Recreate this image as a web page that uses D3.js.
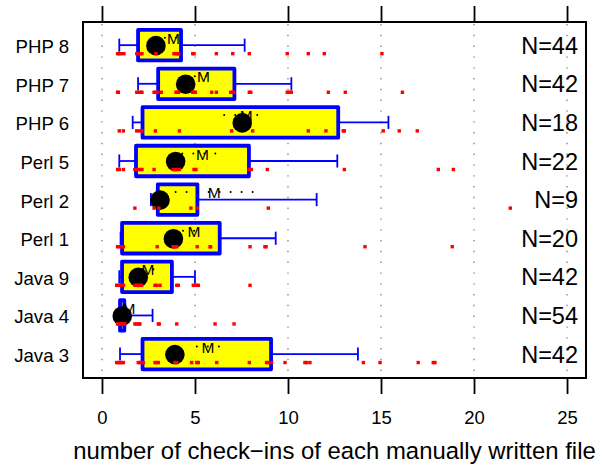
<!DOCTYPE html>
<html>
<head>
<meta charset="utf-8">
<script src="https://cdn.jsdelivr.net/npm/d3@7"></script>
<style>
  html, body { margin: 0; padding: 0; background: #fff; }
  svg { display: block; font-family: "Liberation Sans", Arial, Helvetica, sans-serif; }
</style>
</head>
<body>
<svg id="chart" width="603" height="465"></svg>
<script>
// ---- data (bottom to top) ----
const categories = ["Java 3", "Java 4", "Java 9", "Perl 1", "Perl 2", "Perl 5", "PHP 6", "PHP 7", "PHP 8"];
const nCounts    = [42, 54, 42, 20, 9, 22, 18, 42, 44];
const lowerWhisker = [0.97, 0.97, 0.93, 1.00, 2.63, 0.93, 1.65, 1.94, 0.93];
const q1           = [2.18, 0.97, 1.08, 1.08, 3.00, 1.83, 2.18, 3.02, 1.94];
const medians      = [3.92, 1.09, 1.95, 3.84, 3.12, 3.96, 7.54, 4.50, 2.90];
const q3           = [9.09, 1.20, 3.76, 6.33, 5.13, 7.90, 12.70, 7.12, 4.25];
const upperWhisker = [13.76, 2.72, 5.00, 9.34, 11.54, 12.65, 15.40, 10.18, 7.67];
const means        = [5.70, 1.45, 2.47, 4.95, 6.03, 5.40, 7.75, 5.46, 3.84];
const meanSE       = [0.60, 0.20, 0.30, 0.59, 2.07, 1.08, 1.18, 0.47, 0.46];

const pointsJava3 = [0.79,0.88,0.97,1.06,1.15,1.95,2.04,2.13,2.22,2.85,2.94,3.03,3.92,4.02,4.82,5.09,5.18,6.17,7.92,8.85,8.94,9.12,9.84,10.91,11.0,11.18,14.05,14.95,17.0,17.81,17.9];
const pointsJava4 = [0.84,0.90,0.97,1.03,1.10,1.17,1.23,1.77,1.87,1.97,2.04,3.03,3.08,4.02,6.08,7.10];
const pointsJava9 = [0.79,0.88,0.97,1.06,1.15,1.77,1.87,1.95,2.04,2.13,2.85,2.94,3.12,4.02,4.10,4.91,5.00,5.09,5.18,7.96];
const pointsPerl1 = [0.84,0.93,1.06,1.15,2.97,3.83,3.92,4.02,5.12,5.81,5.84,7.96,8.76,8.82,14.14,18.83];
const pointsPerl2 = [1.77,2.80,3.06,4.78,5.12,8.94,21.95];
const pointsPerl5 = [0.84,0.93,1.15,1.77,1.87,2.01,2.15,2.80,3.83,3.98,4.16,4.95,5.05,7.92,8.03,8.89,13.03,18.08,18.89];
const pointsPHP6  = [0.93,1.15,1.87,2.01,2.15,2.87,4.16,6.97,8.10,11.09,12.04,12.97,13.03,15.12,15.98,16.95];
const pointsPHP7  = [0.84,0.88,1.87,1.97,2.08,2.15,2.80,2.90,2.97,3.19,3.98,4.05,4.12,4.88,4.95,5.02,5.90,6.15,6.92,7.03,7.10,7.92,8.00,9.96,10.07,10.18,12.17,13.08,16.15];
const pointsPHP8  = [0.84,0.93,1.04,1.18,1.87,1.97,2.08,2.15,2.90,3.87,3.98,4.05,4.12,4.88,4.95,6.15,7.03,7.92,9.96,11.09,11.95,15.05];
const pointSets = [pointsJava3, pointsJava4, pointsJava9, pointsPerl1, pointsPerl2, pointsPerl5, pointsPHP6, pointsPHP7, pointsPHP8];

const xTicks = [0, 5, 10, 15, 20, 25];
const xTitle = "number of check\u2212ins of each manually written file";

// ---- layout ----
const svg = d3.select("#chart");
const L = 83, R = 586, T = 22, B = 378;
const x = d3.scaleLinear().domain([-1.02, 26.02]).range([L, R]);
const y = d3.scaleLinear().domain([0.38, 9.6]).range([B, T]);
const boxHalf = 0.395;   // in category units
const capHalf = 0.17;

const rows = categories.map((c, i) => ({
  cat: c, pos: i + 1, n: nCounts[i],
  lw: lowerWhisker[i], q1: q1[i], med: medians[i], q3: q3[i], uw: upperWhisker[i],
  mean: means[i], se: meanSE[i], pts: pointSets[i]
}));

// grid lines
svg.append("g").selectAll("line").data(xTicks).join("line")
  .attr("x1", d => x(d)).attr("x2", d => x(d))
  .attr("y1", T + 2).attr("y2", B)
  .attr("stroke", "#9a9a9a").attr("stroke-width", 1.6)
  .attr("stroke-dasharray", "1.4,9.4");

// whiskers
const g = svg.append("g");
rows.forEach(r => {
  const cy = y(r.pos);
  const wg = g.append("g").attr("stroke", "#0000ff").attr("stroke-width", 1.8).attr("fill", "none");
  wg.append("line").attr("x1", x(r.lw)).attr("x2", x(r.q1)).attr("y1", cy).attr("y2", cy);
  wg.append("line").attr("x1", x(r.q3)).attr("x2", x(r.uw)).attr("y1", cy).attr("y2", cy);
  wg.append("line").attr("x1", x(r.lw)).attr("x2", x(r.lw)).attr("y1", y(r.pos + capHalf)).attr("y2", y(r.pos - capHalf));
  wg.append("line").attr("x1", x(r.uw)).attr("x2", x(r.uw)).attr("y1", y(r.pos + capHalf)).attr("y2", y(r.pos - capHalf));
});

// boxes
g.selectAll("rect.box").data(rows).join("rect").attr("class", "box")
  .attr("x", d => x(d.q1)).attr("width", d => Math.max(0.1, x(d.q3) - x(d.q1)))
  .attr("y", d => y(d.pos + boxHalf)).attr("height", d => y(d.pos - boxHalf) - y(d.pos + boxHalf))
  .attr("fill", "#ffff00").attr("stroke", "#0000ff").attr("stroke-width", 3.8)
  .attr("stroke-linejoin", "round");

// median dots
g.selectAll("circle.med").data(rows).join("circle").attr("class", "med")
  .attr("cx", d => x(d.med)).attr("cy", d => y(d.pos) + 0.5).attr("r", 9.8)
  .attr("fill", "#000");

// mean +- se dotted lines and M
g.selectAll("line.se").data(rows).join("line").attr("class", "se")
  .attr("x1", d => x(d.mean - d.se)).attr("x2", d => x(d.mean + d.se))
  .attr("y1", d => y(d.pos) - 7.5).attr("y2", d => y(d.pos) - 7.5)
  .attr("stroke", "#000").attr("stroke-width", 2)
  .attr("stroke-dasharray", "0,11").attr("stroke-linecap", "round");
g.selectAll("text.m").data(rows).join("text").attr("class", "m")
  .attr("x", d => x(d.mean)).attr("y", d => y(d.pos) - 1.5)
  .attr("text-anchor", "middle").attr("font-size", 15.5).attr("fill", "#000")
  .text("M");

// jittered points
rows.forEach(r => {
  g.append("g").selectAll("rect").data(r.pts).join("rect")
    .attr("x", d => x(d) - 1.7).attr("y", y(r.pos) + 8.5 - 1.7)
    .attr("width", 3.4).attr("height", 3.4).attr("fill", "#ff0000");
});

// category labels
svg.append("g").selectAll("text").data(rows).join("text")
  .attr("x", 69).attr("y", d => y(d.pos) + 8)
  .attr("text-anchor", "end").attr("font-size", 18.6).attr("fill", "#000")
  .text(d => d.cat);

// N labels
svg.append("g").selectAll("text").data(rows).join("text")
  .attr("x", 578).attr("y", d => y(d.pos) + 8.5)
  .attr("text-anchor", "end").attr("font-size", 23.5).attr("fill", "#000")
  .text(d => "N=" + d.n);

// frame
svg.append("rect").attr("x", L).attr("y", T).attr("width", R - L).attr("height", B - T)
  .attr("fill", "none").attr("stroke", "#000").attr("stroke-width", 2);

// axes
const axisB = svg.append("g").attr("transform", `translate(0,${B})`)
  .call(d3.axisBottom(x).tickValues(xTicks).tickSize(16).tickPadding(16.5).tickFormat(d3.format("d")));
const axisT = svg.append("g").attr("transform", `translate(0,${T})`)
  .call(d3.axisTop(x).tickValues(xTicks).tickSize(16).tickFormat(""));
[axisB, axisT].forEach(a => {
  a.select(".domain").remove();
  a.selectAll(".tick line").attr("stroke", "#000").attr("stroke-width", 1.8);
  a.selectAll("text").attr("font-size", 18.5).attr("fill", "#000")
    .attr("font-family", "'Liberation Sans', Arial, Helvetica, sans-serif");
});

// axis title
svg.append("text").attr("x", (L + R) / 2).attr("y", 459)
  .attr("text-anchor", "middle").attr("font-size", 23.9).attr("fill", "#000")
  .text(xTitle);
</script>
</body>
</html>
